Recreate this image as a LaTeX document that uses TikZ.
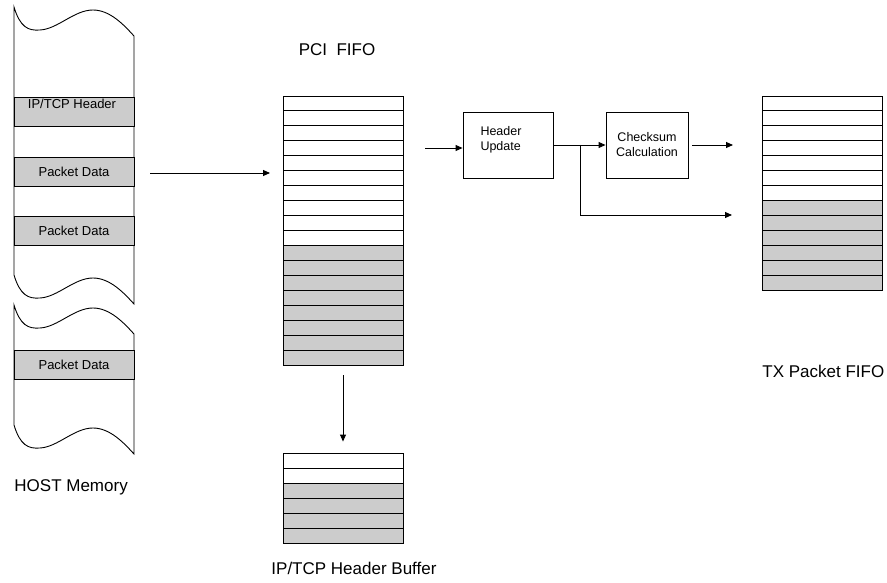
\documentclass[tikz,border=0pt]{standalone}
\usepackage{fontspec}
\setmainfont{Liberation Sans}
\usepackage{tikz}
\usetikzlibrary{arrows.meta}
\definecolor{cellgray}{RGB}{204,204,204}

\begin{document}
\begin{tikzpicture}[x=1pt, y=-1pt, line width=0.9pt,
    lbl/.style={inner sep=0pt, font=\fontsize{17}{20}\selectfont},
    small/.style={inner sep=0pt, font=\fontsize{12.5}{15}\selectfont, align=center},
    band/.style={draw, fill=cellgray, minimum width=120pt, minimum height=29pt, inner sep=0pt, font=\fontsize{13}{15}\selectfont},
    fifo/.style={draw, minimum width=120pt, inner sep=0pt},
    proc/.style={draw, fill=white, minimum height=66pt, inner sep=0pt},
    arr/.style={-{Triangle[length=7pt, width=6pt]}}]
        \useasboundingbox (0,0) rectangle (887,583);

        % HOST memory, two torn pieces
        \foreach \ya/\yb in {7/275, 305/425} {
            \filldraw[fill=white] (14,\ya) .. controls (20,\ya+20) and (28,\ya+24) .. (40,\ya+23)
                .. controls (58,\ya+22) and (74,\ya+3) .. (93,\ya+3)
                .. controls (110,\ya+3) and (124,\ya+18) .. (134,\ya+29)
                -- (134,\yb+29)
                .. controls (124,\yb+18) and (110,\yb+3) .. (93,\yb+3)
                .. controls (74,\yb+3) and (58,\yb+22) .. (40,\yb+23)
                .. controls (28,\yb+24) and (20,\yb+20) .. (14,\yb) -- cycle;
        }
        \node[band] (iphdr) at (74,111.5) {};
        \node[small, font=\fontsize{13}{15}\selectfont] (iphdrtxt) at (72,104) {IP/TCP Header};
        \node[band] (pktA) at (74,171.5) {Packet Data};
        \node[band] (pktB) at (74,231) {Packet Data};
        \node[band] (pktC) at (74,364.5) {Packet Data};
        \node[lbl, anchor=base west] (hostlbl) at (14,491) {HOST Memory};

        % PCI FIFO: 10 free rows, 8 filled
        \fill[cellgray] (283,245.4) rectangle (403,365);
        \foreach \i in {1,...,17} \draw (283,96+\i*14.944) -- (403,96+\i*14.944);
        \node[fifo, minimum height=269pt] (pci) at (343,230.5) {};
        \node[lbl, anchor=base] (pcilbl) at (337,56) {PCI\ \ FIFO};

        % Header buffer below
        \fill[cellgray] (283,483) rectangle (403,543);
        \foreach \i in {1,...,5} \draw (283,453+\i*15) -- (403,453+\i*15);
        \node[fifo, minimum height=90pt] (hdrbuf) at (343,498) {};
        \node[lbl, anchor=base west] (buflbl) at (271,574) {IP/TCP Header Buffer};

        % TX packet FIFO: 7 free rows, 6 filled
        \fill[cellgray] (762,200.5) rectangle (882,290);
        \foreach \i in {1,...,12} \draw (762,96+\i*14.923) -- (882,96+\i*14.923);
        \node[fifo, minimum height=194pt] (txfifo) at (822,193) {};
        \node[lbl, anchor=base west] (txlbl) at (762,377) {TX Packet FIFO};

        % Processing steps
        \node[proc, minimum width=90pt] (hdrupd) at (508,145) {};
        \node[small, align=left] (hdrupdtxt) at (501,139.5) {Header\\Update};
        \node[proc, small, minimum width=82pt] (cksum) at (647,145) {Checksum\\Calculation};

        % Data path
        \coordinate (hostout) at (150,173);
        \coordinate (pciin) at (270,173);
        \draw[arr] (hostout) -- (pciin);
        \draw[arr] ([yshift=-10pt]pci.south) -- ([yshift=11pt]hdrbuf.north);
        \coordinate (updin) at (425,148);
        \draw[arr] (updin) -- (updin -| hdrupd.west);
        \coordinate (split) at (580,145);
        \draw (hdrupd.east) -- (split);
        \draw[arr] (split) -- (cksum.west);
        \coordinate (txlow) at (732,215);
        \draw[arr] (split) |- (txlow);
        \coordinate (txhigh) at (733,145);
        \draw[arr] ([xshift=4pt]cksum.east) -- (txhigh);
\end{tikzpicture}
\end{document}
